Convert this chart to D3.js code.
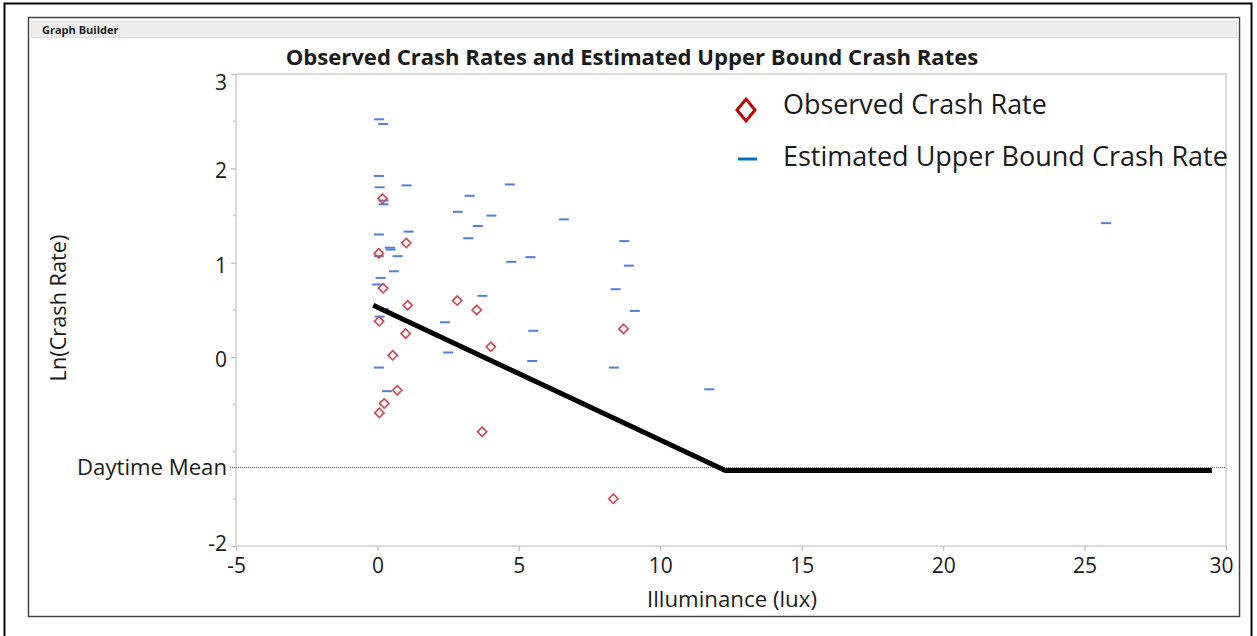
<!DOCTYPE html>
<html>
<head>
<meta charset="utf-8">
<script src="https://cdn.jsdelivr.net/npm/d3@7"></script>
<style>
    body { margin: 0; background: #fff; }
    text { font-family: "Open Sans", "Noto Sans", sans-serif; fill: #1a1a1a; }
</style>
</head>
<body>
<svg id="chart" width="1257" height="636"></svg>
<script>
// observed crash rates (diamonds)
let obsLux = [0.18, 1.02, 0.05, 0.20, 1.07, 2.82, 3.51, 0.06, 1.00, 4.01, 0.54, 0.70, 0.24, 0.07, 3.70, 8.70, 8.34];
let obsLn  = [1.68, 1.21, 1.10, 0.73, 0.55, 0.60, 0.50, 0.38, 0.25, 0.11, 0.02, -0.35, -0.49, -0.59, -0.79, 0.30, -1.50];

// estimated upper bound crash rates (dashes)
let ubLux = [0.06, 0.20, 0.05, 0.08, 1.03, 0.22, 0.22, 3.26, 4.68, 2.84, 4.03, 3.55, 3.21, 0.05, 1.10,
             0.44, 0.47, 0.71, 0.58, 0.11, -0.01, 4.73, 5.41, 3.71, 0.22, 0.08, 2.39, 2.50, 5.51, 5.47,
             0.05, 0.34, 6.59, 8.73, 8.89, 8.42, 9.10, 8.36, 11.73, 25.76, 0.05];
let ubLn  = [2.52, 2.47, 1.92, 1.80, 1.82, 1.66, 1.62, 1.71, 1.83, 1.54, 1.50, 1.39, 1.26, 1.30, 1.33,
             1.16, 1.14, 1.07, 0.91, 0.84, 0.77, 1.01, 1.06, 0.65, 0.51, 0.43, 0.37, 0.05, 0.28, -0.04,
             -0.11, -0.36, 1.46, 1.23, 0.97, 0.72, 0.49, -0.11, -0.34, 1.42, 1.07];

// fitted piecewise line
let fitLux = [-0.15, 12.3, 29.5];
let fitLn  = [0.55, -1.2, -1.2];

let daytimeMean = -1.17;

let xTicks = [-5, 0, 5, 10, 15, 20, 25, 30];
let yTicks = [3, 2, 1, 0, -2];
let yMinor = [2.5, 1.5, 0.5, -0.5, -1, -1.5];

let svg = d3.select("#chart");

// outer border and Graph Builder frame
svg.append("rect").attr("x", 4.5).attr("y", 3.5).attr("width", 1247).attr("height", 640)
    .attr("fill", "none").attr("stroke", "#000").attr("stroke-width", 2);
svg.append("rect").attr("x", 28.5).attr("y", 17.5).attr("width", 1211).attr("height", 599)
    .attr("fill", "#fff").attr("stroke", "#444").attr("stroke-width", 1.5);
svg.append("rect").attr("x", 31.5).attr("y", 21.5).attr("width", 1205).attr("height", 16)
    .attr("fill", "#eeeeee").attr("stroke", "#dcdcdc");
svg.append("text").attr("x", 42).attr("y", 34)
    .style("font-size", "11px").style("font-weight", "bold")
    .text("Graph Builder");

// fit a text to a measured width by scaling its font size
function fitWidth(t, w) {
    let fs = parseFloat(t.style("font-size"));
    let len = t.node().getComputedTextLength();
    t.style("font-size", (fs * w / len) + "px");
    return t;
}

let x = d3.scaleLinear().domain([-5, 30]).range([236, 1226]);
let y = d3.scaleLinear().domain([-2, 3]).range([546, 74]);

// plot frame
svg.append("rect").attr("x", 236).attr("y", 74).attr("width", 990).attr("height", 472)
    .attr("fill", "none").attr("stroke", "#d0d0d0").attr("stroke-width", 1.5);

// axes (plain hyphen for negatives, like the original)
let fmt = function (d) { return String(d); };

let xAxis = svg.append("g").attr("transform", "translate(0,546)")
    .call(d3.axisBottom(x).tickValues(xTicks).tickFormat(fmt).tickSize(5).tickSizeOuter(0));
xAxis.select(".domain").remove();
xAxis.selectAll("line").attr("stroke", "#c8c8c8").attr("stroke-width", 1.5);
xAxis.selectAll("text")
    .attr("font-family", null).attr("fill", null)
    .style("font-size", "21px").attr("y", 12)
    .attr("x", function (d) { return d === 30 ? -5 : 0; });

let yAxis = svg.append("g").attr("transform", "translate(236,0)")
    .call(d3.axisLeft(y).tickValues(yTicks).tickFormat(fmt).tickSize(5).tickSizeOuter(0));
yAxis.select(".domain").remove();
yAxis.selectAll("line").attr("stroke", "#c8c8c8").attr("stroke-width", 1.5);
yAxis.selectAll("text")
    .attr("font-family", null).attr("fill", null)
    .style("font-size", "21px").attr("x", -9)
    .attr("dy", function (d) { return d === 3 ? "0.72em" : (d === -2 ? "0.2em" : "0.45em"); });

svg.append("g").selectAll("line").data(yMinor).enter().append("line")
    .attr("x1", 233).attr("x2", 236)
    .attr("y1", function (d) { return y(d); }).attr("y2", function (d) { return y(d); })
    .attr("stroke", "#c8c8c8").attr("stroke-width", 1.5);

// daytime mean reference
svg.append("line")
    .attr("x1", 230).attr("x2", 1226)
    .attr("y1", y(daytimeMean)).attr("y2", y(daytimeMean))
    .attr("stroke", "#555").attr("stroke-width", 1).attr("stroke-dasharray", "1,1");
let dm = svg.append("text").attr("x", 227).attr("y", y(daytimeMean)).attr("dy", "0.35em")
    .attr("text-anchor", "end").style("font-size", "20px").text("Daytime Mean");
fitWidth(dm, 150);

// upper bound dashes
let ubData = ubLux.map(function (d, i) { return {x: d, y: ubLn[i]}; });
svg.append("g").selectAll("line").data(ubData).enter().append("line")
    .attr("x1", function (d) { return x(d.x) - 5; })
    .attr("x2", function (d) { return x(d.x) + 5; })
    .attr("y1", function (d) { return y(d.y); })
    .attr("y2", function (d) { return y(d.y); })
    .attr("stroke", "#4f7fe4").attr("stroke-width", 2);

// observed diamonds
let obsData = obsLux.map(function (d, i) { return {x: d, y: obsLn[i]}; });
let diamond = d3.symbol().type(d3.symbolDiamond2).size(55);
svg.append("g").selectAll("path").data(obsData).enter().append("path")
    .attr("d", diamond)
    .attr("transform", function (d) { return "translate(" + x(d.x) + "," + y(d.y) + ")"; })
    .attr("fill", "none").attr("stroke", "#d9434f").attr("stroke-width", 1.6);

// fitted line
let fitData = fitLux.map(function (d, i) { return [d, fitLn[i]]; });
svg.append("path")
    .attr("d", d3.line().x(function (d) { return x(d[0]); }).y(function (d) { return y(d[1]); })(fitData))
    .attr("fill", "none").attr("stroke", "#000").attr("stroke-width", 5);

// title
let title = svg.append("text").attr("x", 632).attr("y", 65).attr("text-anchor", "middle")
    .style("font-size", "20px").style("font-weight", "bold")
    .text("Observed Crash Rates and Estimated Upper Bound Crash Rates");
fitWidth(title, 693);

// axis titles
let xt = svg.append("text").attr("x", 732).attr("y", 607).attr("text-anchor", "middle")
    .style("font-size", "20px").text("Illuminance (lux)");
fitWidth(xt, 170);
let yt = svg.append("text").attr("transform", "translate(66,308) rotate(-90)")
    .attr("text-anchor", "middle").style("font-size", "20px").text("Ln(Crash Rate)");
fitWidth(yt, 147);

// legend
svg.append("path")
    .attr("d", "M0,-11L9,0L0,11L-9,0Z")
    .attr("transform", "translate(746,110)")
    .attr("fill", "none").attr("stroke", "#c00000").attr("stroke-width", 3);
svg.append("line").attr("x1", 738).attr("x2", 757).attr("y1", 159).attr("y2", 159)
    .attr("stroke", "#0070c0").attr("stroke-width", 3);
let l1 = svg.append("text").attr("x", 783).attr("y", 114)
    .style("font-size", "24px").text("Observed Crash Rate");
fitWidth(l1, 264);
let l2 = svg.append("text").attr("x", 783).attr("y", 166)
    .style("font-size", "24px").text("Estimated Upper Bound Crash Rate");
fitWidth(l2, 445);
</script>
</body>
</html>
